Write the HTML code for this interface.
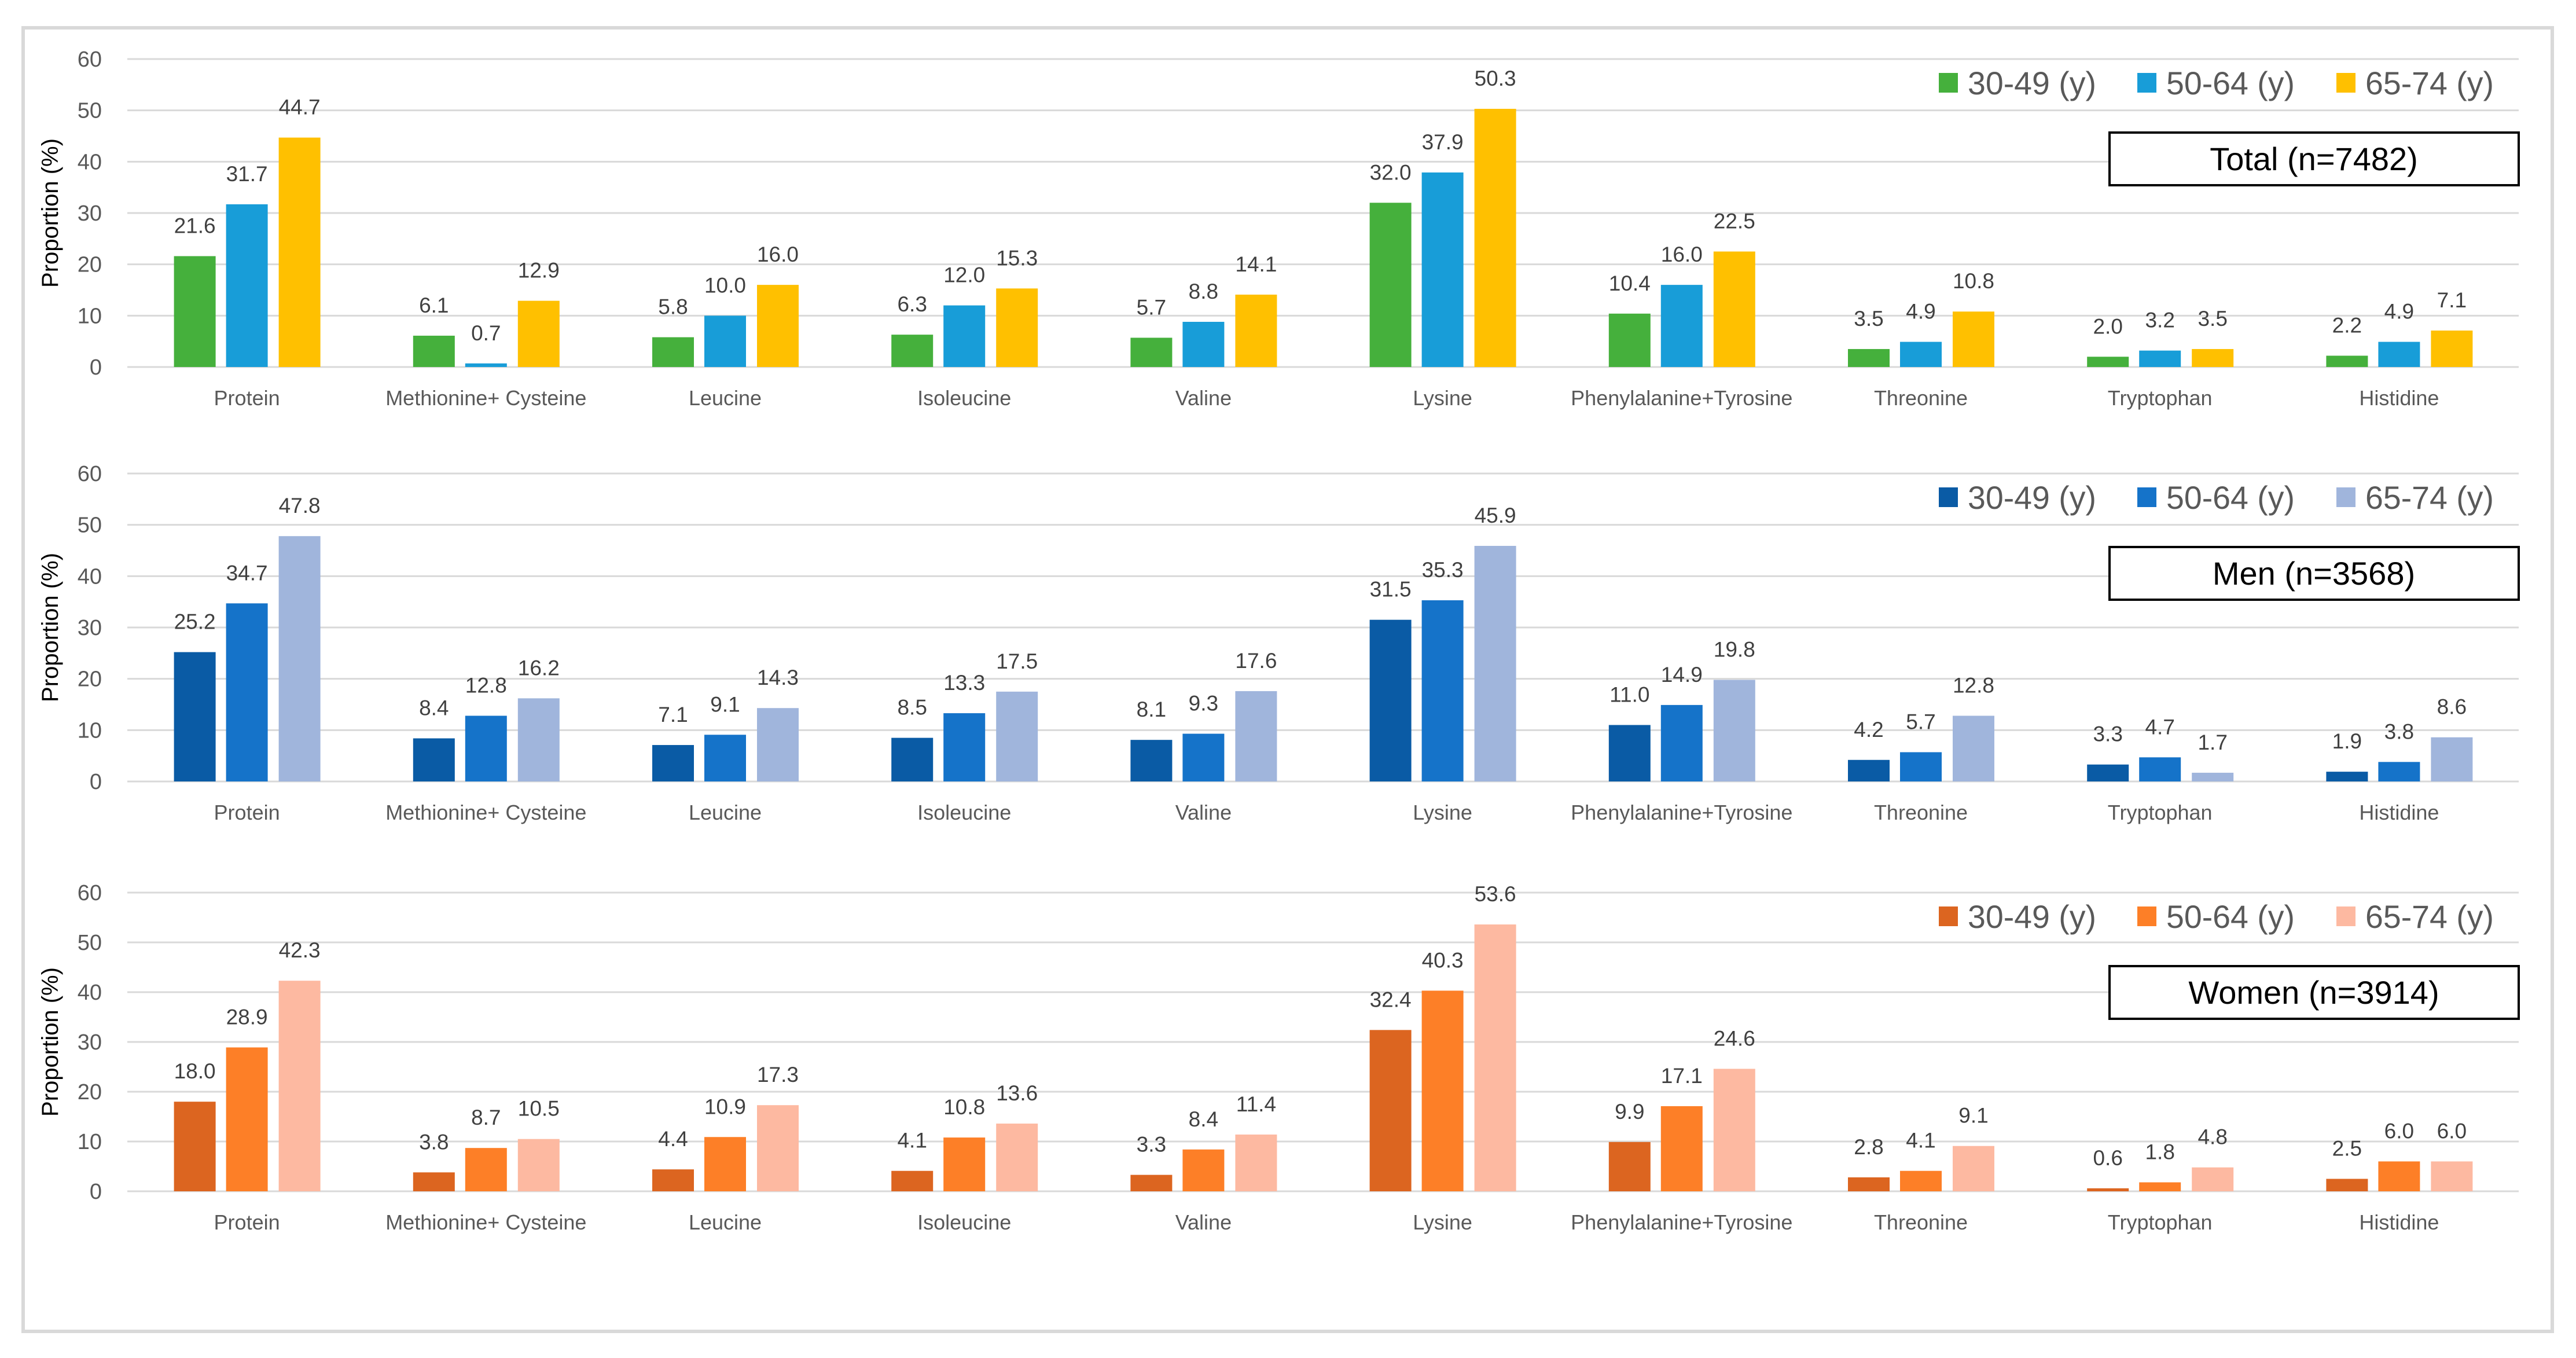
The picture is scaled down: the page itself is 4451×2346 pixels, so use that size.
<!DOCTYPE html>
<html><head><meta charset="utf-8"><style>
html,body{margin:0;padding:0;background:#fff}
svg{display:block;font-family:"Liberation Sans",sans-serif}
</style></head><body>
<svg id="chart" width="4451" height="2346" viewBox="0 0 4451 2346" xmlns="http://www.w3.org/2000/svg">
<rect x="40" y="48" width="4370" height="2252" fill="#fff" stroke="#d9d9d9" stroke-width="6"/>
</svg>
<script>
const categories = ["Protein","Methionine+ Cysteine","Leucine","Isoleucine","Valine","Lysine","Phenylalanine+Tyrosine","Threonine","Tryptophan","Histidine"];
const seriesNames = ["30-49 (y)","50-64 (y)","65-74 (y)"];
const yTicks = [0,10,20,30,40,50,60];
const panelTitles = ["Total (n=7482)","Men (n=3568)","Women (n=3914)"];
const total3049 = [21.6,6.1,5.8,6.3,5.7,32.0,10.4,3.5,2.0,2.2];
const total5064 = [31.7,0.7,10.0,12.0,8.8,37.9,16.0,4.9,3.2,4.9];
const total6574 = [44.7,12.9,16.0,15.3,14.1,50.3,22.5,10.8,3.5,7.1];
const men3049 = [25.2,8.4,7.1,8.5,8.1,31.5,11.0,4.2,3.3,1.9];
const men5064 = [34.7,12.8,9.1,13.3,9.3,35.3,14.9,5.7,4.7,3.8];
const men6574 = [47.8,16.2,14.3,17.5,17.6,45.9,19.8,12.8,1.7,8.6];
const women3049 = [18.0,3.8,4.4,4.1,3.3,32.4,9.9,2.8,0.6,2.5];
const women5064 = [28.9,8.7,10.9,10.8,8.4,40.3,17.1,4.1,1.8,6.0];
const women6574 = [42.3,10.5,17.3,13.6,11.4,53.6,24.6,9.1,4.8,6.0];

const panels = [
  {key:"total", top:102, bottom:634, data:[total3049,total5064,total6574], colors:["#45b03c","#189dd8","#ffc000"]},
  {key:"men", top:818, bottom:1350, data:[men3049,men5064,men6574], colors:["#0a5ba5","#1573c9","#a0b5dc"]},
  {key:"women", top:1542, bottom:2058, data:[women3049,women5064,women6574], colors:["#dc6520","#fd7f27","#fdb9a1"]}
];
const NS="http://www.w3.org/2000/svg";
const svg=document.getElementById('chart');
const plotL=220, plotR=4352, catW=(plotR-plotL)/categories.length;
const barW=72, offsets=[-90,0,91];
function mk(tag,attrs,parent){const e=document.createElementNS(NS,tag);for(const k in attrs)e.setAttribute(k,attrs[k]);(parent||svg).appendChild(e);return e;}
function xCenter(i){return plotL+catW*(i+0.5);}

panels.forEach((p,pi)=>{
  const g=mk('g',{});
  
  
  const yS=v=>p.bottom-(v/60)*(p.bottom-p.top);
  yTicks.forEach(t=>{
    const l=mk('line',{x1:plotL,x2:plotR,y1:yS(t),y2:yS(t),stroke:'#d9d9d9','stroke-width':3},g);
    
    
    const tx=mk('text',{x:176,y:yS(t)+13,'text-anchor':'end','font-size':38,fill:'#595959'},g);
    tx.textContent=t;
    
    
  });
  const midY=(p.top+p.bottom)/2;
  const yt=mk('text',{x:0,y:0,transform:`translate(100,${midY}) rotate(-90)`,'text-anchor':'middle','font-size':40,fill:'#000'},g);
  yt.textContent='Proportion (%)';
  
  
  categories.forEach((c,i)=>{
    const cl=mk('text',{x:xCenter(i),y:p.bottom+66,'text-anchor':'middle','font-size':36,fill:'#595959'},g);
    cl.textContent=c;
    
    
    p.data.forEach((arr,s)=>{
      const v=arr[i];
      const cx=xCenter(i)+offsets[s];
      const r=mk('rect',{x:cx-barW/2,y:yS(v),width:barW,height:yS(0)-yS(v),fill:p.colors[s]},g);
      
      
      const vl=mk('text',{x:cx,y:yS(v)-40,'text-anchor':'middle','font-size':37,fill:'#404040'},g);
      vl.textContent=v.toFixed(1);
      
      
    });
  });
  const legX=[3350,3693,4037];
  const ly=p.top+41;
  seriesNames.forEach((n,s)=>{
    const sq=mk('rect',{x:legX[s],y:ly-17,width:33,height:34,fill:p.colors[s]},g);
    
    
    const lt=mk('text',{x:legX[s]+50,y:ly+20,'font-size':56,fill:'#595959',textLength:222,lengthAdjust:'spacingAndGlyphs'},g);
    lt.textContent=n;
    
    
  });
  const by=p.top+127;
  const box=mk('rect',{x:3645,y:by,width:707,height:91,fill:'#fff',stroke:'#000','stroke-width':4},g);
  
  
  const bt=mk('text',{x:3998,y:by+65,'text-anchor':'middle','font-size':56,fill:'#000'},g);
  bt.textContent=panelTitles[pi];
  
  
});
</script>
</body></html>
